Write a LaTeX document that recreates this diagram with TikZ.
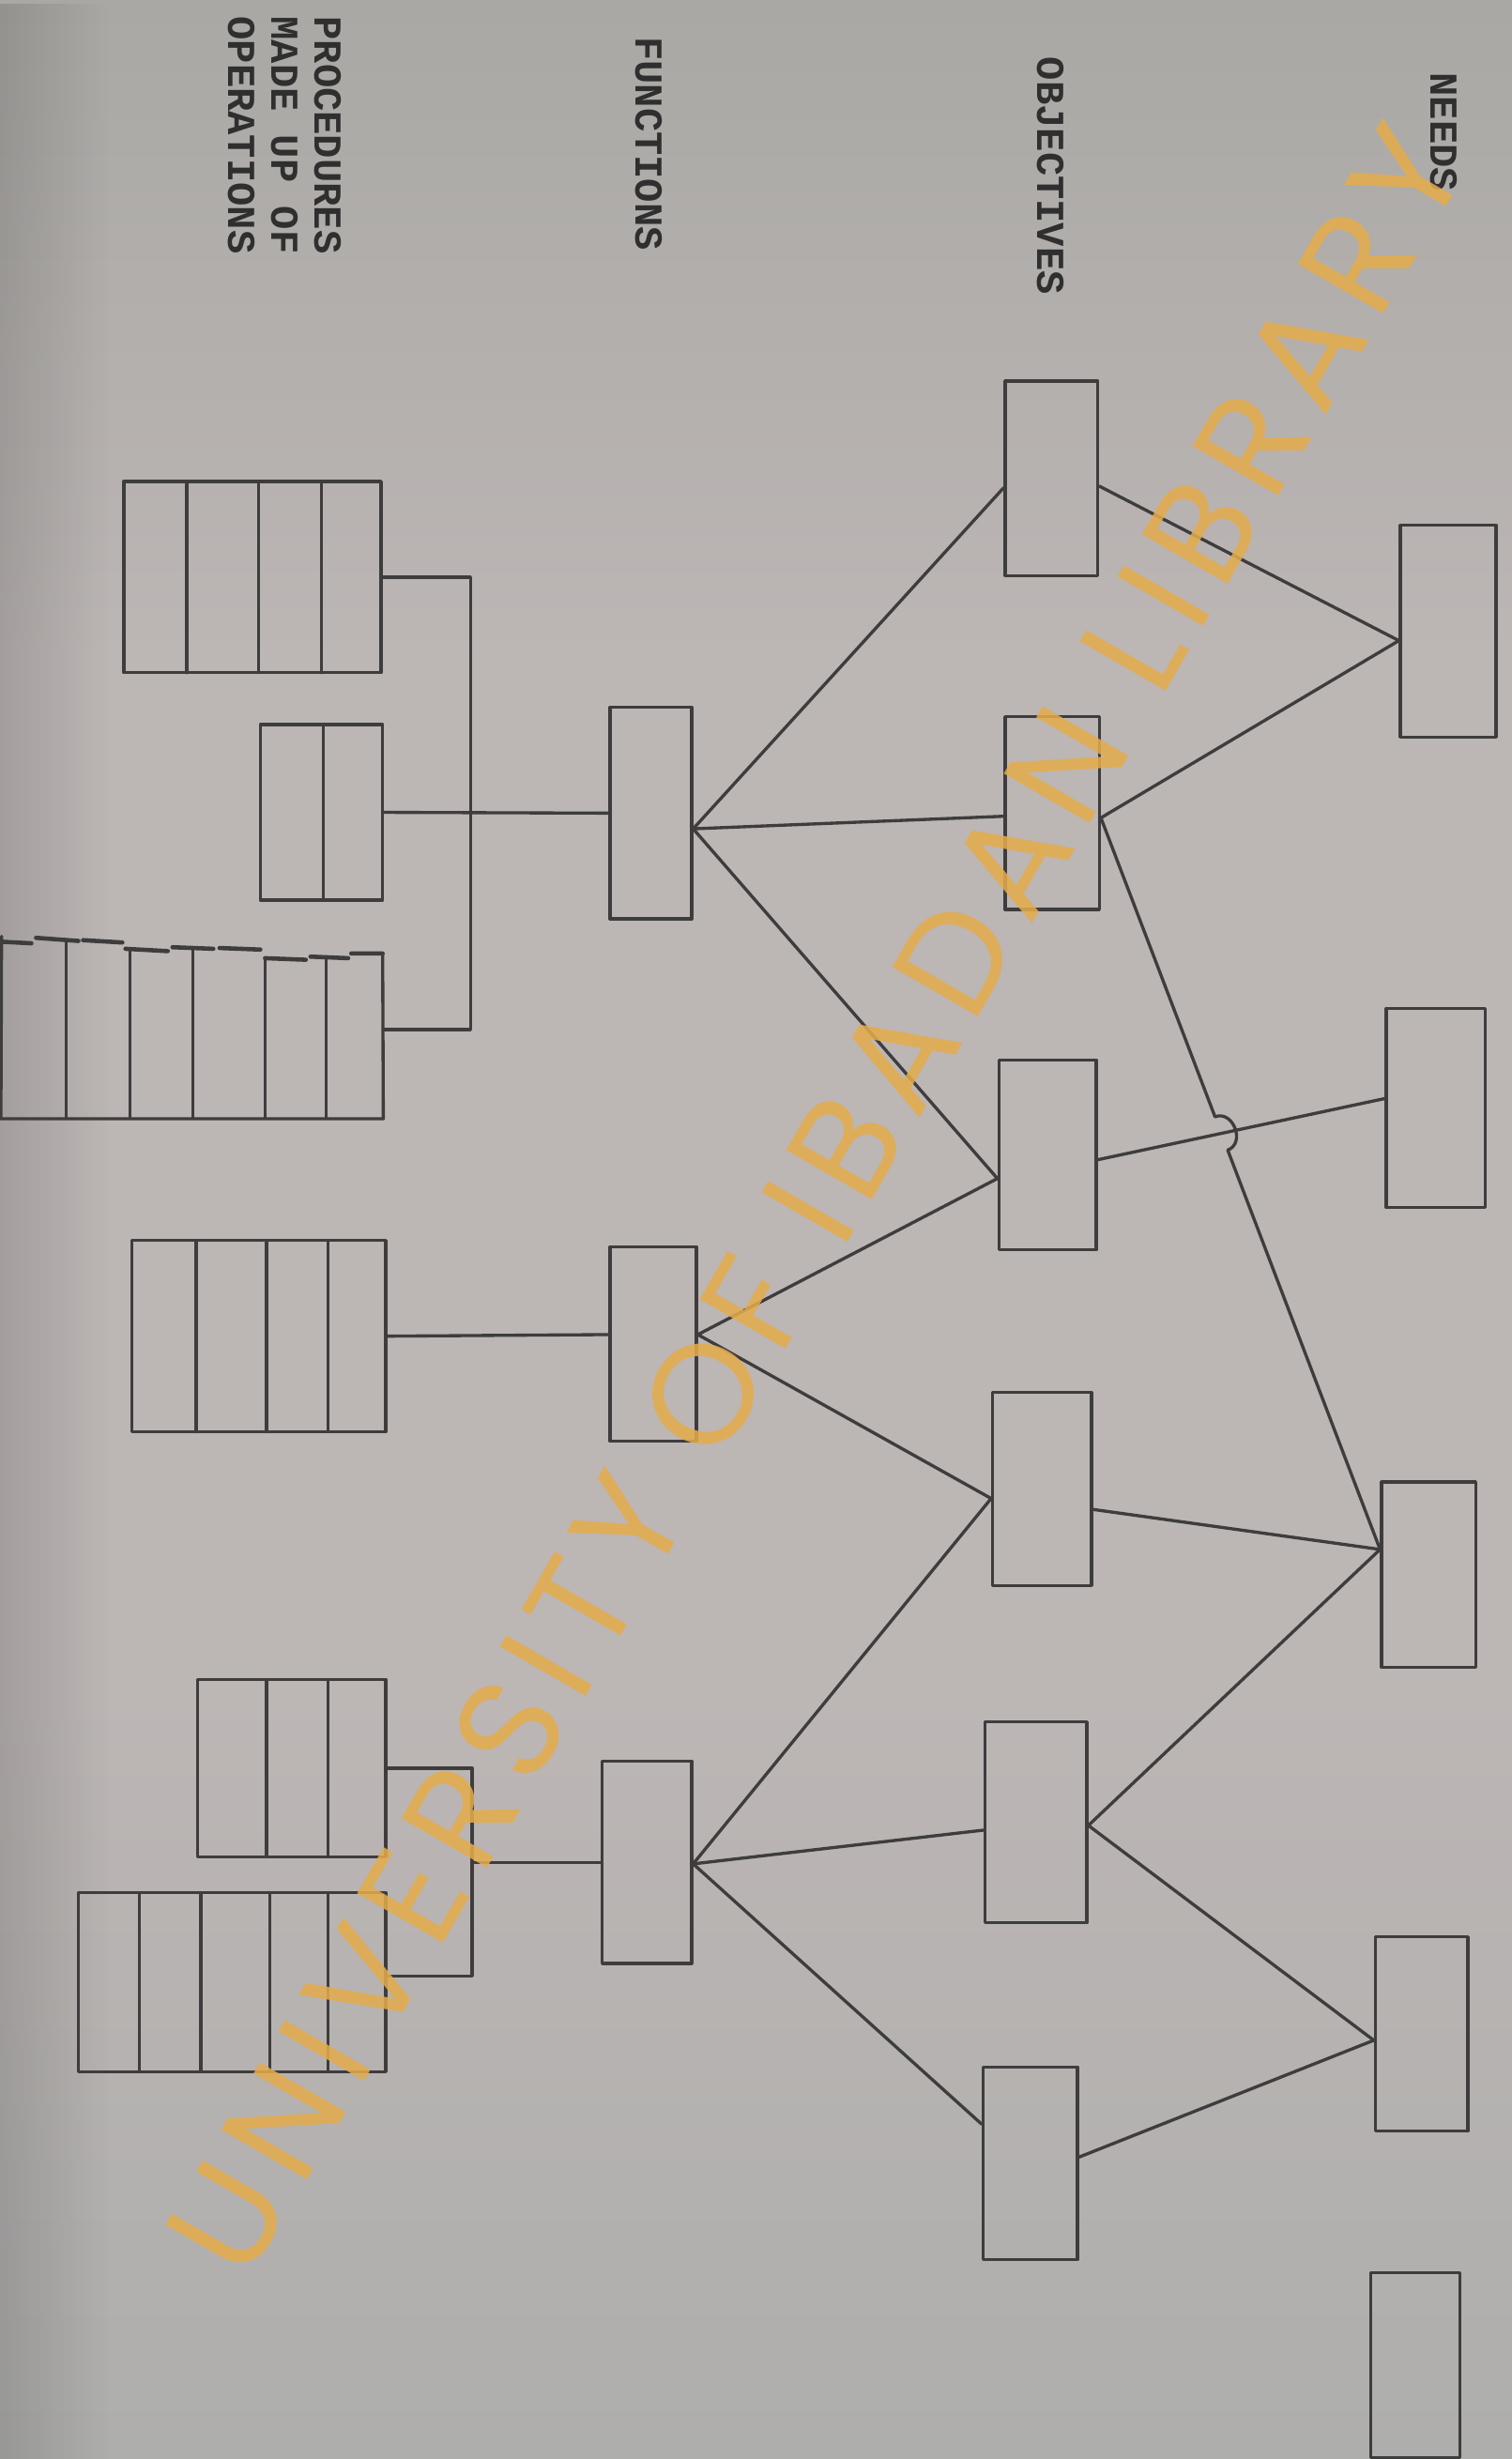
\documentclass[tikz,border=0pt]{standalone}
\usepackage{fontspec}
\setmonofont{Liberation Mono}
\newfontfamily\wmfont[LetterSpace=10]{Poppins}
\usetikzlibrary{fit,calc,fadings}
\definecolor{inkc}{HTML}{3E3C3C}
\definecolor{labc}{HTML}{2F2F2F}
\definecolor{wmc}{HTML}{E4AC4C}
\definecolor{bgtop}{HTML}{A9A8A4}
\definecolor{bgmid}{HTML}{BCB6B5}
\definecolor{bgbot}{HTML}{AEAEAC}
\begin{document}
\begin{tikzpicture}[x=0.016701cm,y=-0.016701cm,
  ink/.style={draw=inkc, line width=0.95pt, line cap=round, line join=round},
  box/.style={ink, inner sep=0pt},
  lbl/.style={font=\ttfamily\bfseries\fontsize{12}{13.1}\selectfont, text=labc, rotate=-90, inner sep=0pt},
  wm/.style={font=\wmfont\fontsize{43}{43}\selectfont, text=wmc, text opacity=0.86, inner sep=0pt}]
\useasboundingbox (0,0) rectangle (964,1568);
\shade[top color=bgtop, bottom color=bgmid] (0,0) rectangle (964,420);
\fill[bgmid] (0,419) rectangle (964,1081);
\shade[top color=bgmid, bottom color=bgbot] (0,1080) rectangle (964,1568);
\fill[black, opacity=0.13, path fading=east] (0,0) rectangle (70,1568);

% labels
\node[lbl, anchor=west] (needs) at (920.5,46) {NEEDS};
\node[lbl, anchor=west] (obj) at (670,36) {OBJECTIVES};
\node[lbl, anchor=west] (fun) at (414,23) {FUNCTIONS};
\node[lbl, anchor=north west, align=left] (proc) at (218,10) {PROCEDURES\\MADE UP OF\\OPERATIONS};

% objectives
\node[box, fit={(641,243) (700,367)}] (O1) {};
\node[box, fit={(641,457) (701,580)}] (O2) {};
\node[box, fit={(637,676) (699,797)}] (O3) {};
\node[box, fit={(633,888) (696,1011)}] (O4) {};
\node[box, fit={(628,1098) (693,1226)}] (O5) {};
\node[box, fit={(627,1318) (687,1441)}] (O6) {};
% needs
\node[box, fit={(893,335) (954,470)}] (N1) {};
\node[box, fit={(884,643) (947,770)}] (N2) {};
\node[box, fit={(881,945) (941,1063)}] (N3) {};
\node[box, fit={(877,1235) (936,1359)}] (N4) {};
\node[box, fit={(874,1449) (931,1567)}] (N5) {};
% functions
\node[box, fit={(389,451) (441,586)}] (F1) {};
\node[box, fit={(389,795) (444,919)}] (F2) {};
\node[box, fit={(384,1123) (441,1252)}] (F3) {};
% procedures
\node[box, fit={(79,307) (243,429)}] (P1) {};
\draw[ink] (119,307) -- (119,429) (165,307) -- (165,429) (205,307) -- (205,429);
\node[box, fit={(166,462) (244,574)}] (P2) {};
\draw[ink] (206,462) -- (206,574);
\node[inner sep=0pt, fit={(1,600) (244,713)}] (P3) {};
\draw[ink] (1,597) -- (P3.south west) -- (P3.south east) -- (244,608);
\draw[ink] (42,600) -- (42,713) (83,605) -- (83,713) (123,604) -- (123,713)
  (169,611) -- (169,713) (208,611) -- (208,713);
\draw[ink, line width=1.3pt] (1,600.5) -- (20,601.5) (23,598) -- (50,600) (53,599.5) -- (78,601)
  (80,605) -- (107,606.5) (110,604) -- (136,605) (140,604.5) -- (166,605.5)
  (169,611) -- (195,612) (198,610) -- (222,611) (224,608) -- (244,608);
\node[box, fit={(84,791) (246,913)}] (P4) {};
\draw[ink] (125,791) -- (125,913) (170,791) -- (170,913) (209,791) -- (209,913);
\node[box, fit={(126,1071) (246,1184)}] (P5) {};
\draw[ink] (170,1071) -- (170,1184) (209,1071) -- (209,1184);
\node[box, fit={(50,1207) (246,1321)}] (P6) {};
\draw[ink] (89,1207) -- (89,1321) (128,1207) -- (128,1321) (172,1207) -- (172,1321) (209,1207) -- (209,1321);

% brackets
\coordinate (B1) at (300,0);
\coordinate (B2) at (301,0);
\draw[ink] (P1.east) -- (P1.east -| B1) -- (P3.east -| B1) -- (P3.east);
\draw[ink] (P2.east) -- (F1.west);
\draw[ink] (P4.east) -- ($(F2.west)+(0,-6)$);
\draw[ink] (P5.east) -- (P5.east -| B2) -- ($(P6.east -| B2)+(0,-4)$) -- ($(P6.east)+(0,-4)$);
\draw[ink] (F3.west) -- (F3.west -| B2);

% functions -> objectives
\draw[ink] ($(F1.east)+(0,10)$) -- ($(O1.west)+(0,6)$);
\draw[ink] ($(F1.east)+(0,10)$) -- ($(O2.west)+(0,2)$);
\draw[ink] ($(F1.east)+(0,10)$) -- ($(O3.west)+(0,15)$);
\draw[ink] ($(F2.east)+(0,-6)$) -- ($(O3.west)+(0,15)$);
\draw[ink] ($(F2.east)+(0,-6)$) -- ($(O4.west)+(0,6)$);
\draw[ink] ($(F3.east)+(0,1)$) -- ($(O4.west)+(0,6)$);
\draw[ink] ($(F3.east)+(0,1)$) -- ($(O5.west)+(0,5)$);
\draw[ink] ($(F3.east)+(0,1)$) -- ($(O6.west)+(0,-25)$);

% objectives -> needs
\draw[ink] ($(O1.east)+(0,5)$) -- ($(N1.west)+(0,6)$);
\draw[ink] ($(O2.east)+(0,3)$) -- ($(N1.west)+(0,6)$);
\coordinate (a) at ($(O2.east)+(0,3)$);
\coordinate (b) at ($(N3.west)+(0,-16)$);
\coordinate (c) at ($(O3.east)+(0,3)$);
\coordinate (d) at ($(N2.west)+(0,-6)$);
\coordinate (X) at (intersection of a--b and c--d);
\coordinate (h1) at ($(X)!0.19cm!(a)$);
\coordinate (h2) at ($(X)!0.19cm!(b)$);
\draw[ink] (a) -- (h1) to[bend left=90, looseness=1.4] (h2) -- (b);
\draw[ink] (c) -- (d);
\draw[ink] ($(O4.east)+(0,13)$) -- ($(N3.west)+(0,-16)$);
\draw[ink] ($(O5.east)+(0,2)$) -- ($(N3.west)+(0,-16)$);
\draw[ink] ($(O5.east)+(0,2)$) -- ($(N4.west)+(0,4)$);
\draw[ink] ($(O6.east)+(0,-4)$) -- ($(N4.west)+(0,4)$);

% watermark
\node[wm, rotate=60] (wmark) at (520,765) {UNIVERSITY OF IBADAN LIBRARY};
\end{tikzpicture}
\end{document}
